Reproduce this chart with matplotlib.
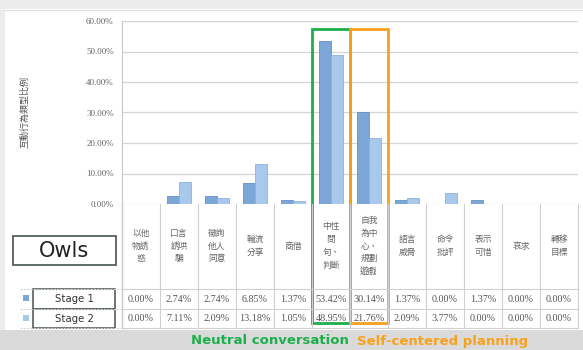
import matplotlib.pyplot as plt
import matplotlib.transforms as mtransforms
from matplotlib.patches import Rectangle
from matplotlib.ticker import FuncFormatter
import numpy as np

plt.rcParams['font.family'] = ['Noto Sans CJK TC', 'DejaVu Sans']

categories = ['以他\n物誘\n惑', '口言\n誘哄\n騙', '徵詢\n他人\n同意', '輪流\n分享', '商借',
              '中性\n問\n句、\n判斷', '自我\n為中\n心、\n規劃\n遊戲', '語言\n威脅', '命令\n批評',
              '表示\n可惜', '哀求', '轉移\n目標']
stage1 = [0.00, 2.74, 2.74, 6.85, 1.37, 53.42, 30.14, 1.37, 0.00, 1.37, 0.00, 0.00]
stage2 = [0.00, 7.11, 2.09, 13.18, 1.05, 48.95, 21.76, 2.09, 3.77, 0.00, 0.00, 0.00]
series_names = ['Stage 1', 'Stage 2']
ylabel = '互動行為類型比例'

W, H = 583, 350
fig = plt.figure(figsize=(W / 100, H / 100), dpi=100)
fig.patch.set_facecolor('white')

# main bar area, placed in pixel units
left, right, top, bottom = 122, 578, 21, 204
ax = fig.add_axes([left / W, 1 - bottom / H, (right - left) / W, (bottom - top) / H])

x = np.arange(len(categories)) + 0.5
w = 0.31
c1, c2 = '#7ca6d8', '#a9c9ec'
ax.bar(x - w / 2, np.array(stage1) / 100, w, color=c1, edgecolor='#6390c8', linewidth=0.6, zorder=3)
ax.bar(x + w / 2, np.array(stage2) / 100, w, color=c2, edgecolor='#8db3df', linewidth=0.6, zorder=3)

ax.set_xlim(0, len(categories))
ax.set_ylim(0, 0.6)
ax.set_yticks(np.arange(0, 0.61, 0.1))
ax.yaxis.set_major_formatter(FuncFormatter(lambda v, p: f'{v * 100:.2f}%'))
ax.tick_params(axis='y', length=0, labelsize=6.5, labelcolor='#666666', pad=6)
for t in ax.get_yticklabels():
    t.set_family('Liberation Serif')
ax.set_xticks([])
ax.grid(axis='y', color='#d4d4d4', linewidth=0.9, zorder=0)
for s in ['top', 'right', 'bottom']:
    ax.spines[s].set_visible(False)
ax.spines['left'].set_color('#c8c8c8')

# overlay in pixel coordinates for the table and notes
ov = fig.add_axes([0, 0, 1, 1], zorder=5)
ov.set_xlim(0, W)
ov.set_ylim(H, 0)
ov.axis('off')
ov.patch.set_alpha(0)
bt = mtransforms.blended_transform_factory(ax.transData, ov.transData)

# slide frame
ov.add_patch(Rectangle((0, 0), W, 9, color='#ececec', lw=0))
ov.add_patch(Rectangle((0, 0), 5, 330, color='#ececec', lw=0))
ov.plot([5, W], [10, 10], color='#dcdcdc', lw=0.8)
ov.add_patch(Rectangle((0, 330), W, 20, color='#dadada', lw=0))

ov.text(25, 112, ylabel, rotation=90, ha='center', va='center', fontsize=6.5, color='#555555')

# data table under the bars
n = len(categories)
for k in range(n + 1):
    ov.plot([k, k], [bottom, 328], transform=bt, color='#d0d0d0', lw=0.8)
ov.plot([0, 0], [bottom, 328], transform=bt, color='#c8c8c8', lw=0.9)
for yy in [289, 309, 328]:
    ov.plot([0, n], [yy, yy], transform=bt, color='#d0d0d0', lw=0.8)
    ov.plot([20, left], [yy, yy], color='#d6d6d6', lw=0.8, ls=(0, (2, 1)))

for i, lab in enumerate(categories):
    ov.text(x[i], 246, lab, transform=bt, ha='center', va='center', fontsize=6.3,
            color='#666666', linespacing=1.55)
    ov.text(x[i], 299, f'{stage1[i]:.2f}%', transform=bt, ha='center', va='center',
            fontsize=7.3, color='#555555', family='Liberation Serif')
    ov.text(x[i], 318.5, f'{stage2[i]:.2f}%', transform=bt, ha='center', va='center',
            fontsize=7.3, color='#555555', family='Liberation Serif')

# legend keys with label boxes
for row, (col, name) in enumerate(zip([c1, c2], series_names)):
    y0 = 289 + row * 19.5
    ov.add_patch(Rectangle((23, y0 + 6), 6, 6, color=col, lw=0))
    ov.add_patch(Rectangle((33, y0), 82, 19.5, facecolor='white', edgecolor='#55605c', lw=1.2))
    ov.text(74, y0 + 10, name, ha='center', va='center', fontsize=7.3, color='#333333',
            family='DejaVu Sans')

ov.add_patch(Rectangle((13, 236), 103, 29, facecolor='white', edgecolor='#55605c', lw=1.3))
ov.text(64.5, 251, 'Owls', ha='center', va='center', fontsize=15, color='#222222',
        family='DejaVu Sans')

# highlight frames for the two main behaviours
green, orange = '#1daf4b', '#f8a11b'
ov.add_patch(Rectangle((5, 29), 1, 294, transform=bt, fill=False, edgecolor=green, lw=2))
ov.add_patch(Rectangle((6, 29), 1, 294, transform=bt, fill=False, edgecolor=orange, lw=2))
ov.text(270, 341, 'Neutral conversation', ha='center', va='center', fontsize=9.5,
        fontweight='bold', color=green, family='DejaVu Sans')
ov.text(443, 341, 'Self-centered planning', ha='center', va='center', fontsize=9.5,
        fontweight='bold', color=orange, family='DejaVu Sans')

fig.savefig('out.png', dpi=100)
